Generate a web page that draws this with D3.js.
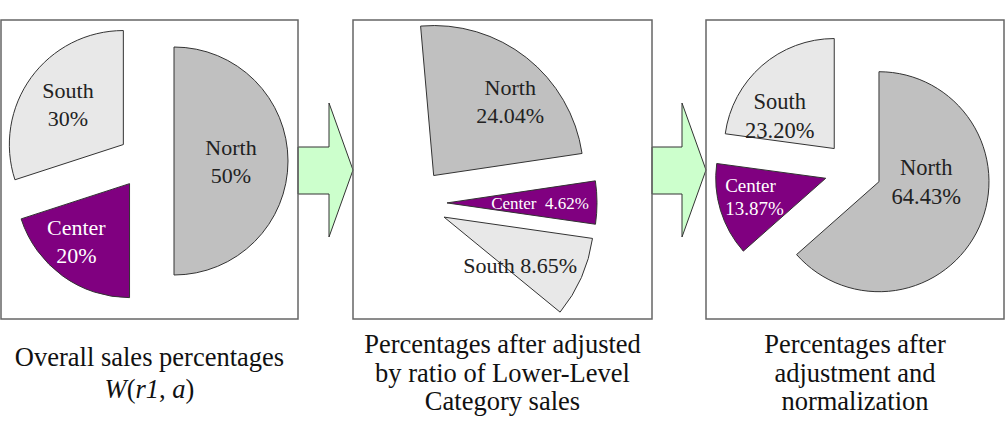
<!DOCTYPE html>
<html>
<head>
<meta charset="utf-8">
<script src="https://cdn.jsdelivr.net/npm/d3@7"></script>
<style>
  body { margin: 0; background: #fff; }
  svg { display: block; }
  text { font-family: "Liberation Serif", "Times New Roman", serif; white-space: pre; }
</style>
</head>
<body>
<div id="chart"></div>
<script>
// Data
const regions = ["North", "Center", "South"];
const overallShares = [50, 20, 30];
const adjustedShares = [24.04, 4.62, 8.65];
const normalizedShares = [64.43, 13.87, 23.20];

const captionLines = [
  ["Overall sales percentages", "W(r1, a)"],
  ["Percentages after adjusted", "by ratio of Lower-Level", "Category sales"],
  ["Percentages after", "adjustment and", "normalization"]
];

const colors = { North: "#c0c0c0", Center: "#800080", South: "#e8e8e8" };
const labelColors = { North: "#222", Center: "#fff", South: "#222" };

const width = 1006, height = 422;
const boxTop = 20, boxBottom = 319;

// layout for each panel (positions only)
const panels = [
  { values: overallShares, x0: 1, x1: 298, cx: 146, cy: 161, r: 114, explode: 28,
    start: 0, partial: false, decimals: 0, font: 22, lh: 28,
    labels: [{ k: .5, da: 0 }, { k: .69, da: 6.6 }, { k: .6, da: 0 }],
    captionY: 366, captionLH: 32 },
  { values: adjustedShares, x0: 353, x1: 652, cx: 412, cy: 203, r: 150, explode: 35,
    start: -5, partial: true, decimals: 2, font: 22, lh: 28,
    labels: [{ k: .71, da: 7.7 }, { k: .62, da: 0, oneLine: true, font: 17, sep: "  " },
             { k: .6, da: 8.5, oneLine: true, sep: " " }],
    captionY: 353, captionLH: 28.5 },
  { values: normalizedShares, x0: 706, x1: 1004, cx: 853, cy: 170, r: 110, explode: 28.5,
    start: 0, partial: false, decimals: 2, font: 22.5, lh: 28.5,
    labels: [{ k: .43, da: -24.3 }, { k: .93, da: 6.4, font: 19, lh: 23, anchor: "start" },
             { k: .58, da: -17.6 }],
    captionY: 353, captionLH: 28.5 }
];

const svg = d3.select("#chart")
  .append("svg")
  .attr("width", width)
  .attr("height", height);

// arrows between panels
const arrowLine = d3.line();
panels.slice(0, -1).forEach((p, i) => {
  const tipX = panels[i + 1].x0;
  const baseX = tipX - 24;
  const pts = [
    [p.x1, 147], [baseX, 147], [baseX, 103], [tipX, 170],
    [baseX, 237], [baseX, 194], [p.x1, 194]
  ];
  svg.append("path")
    .attr("d", arrowLine(pts) + "Z")
    .attr("fill", "#ccffcc")
    .attr("stroke", "#333")
    .attr("stroke-width", 1);
});

panels.forEach((p, pi) => {
  // panel frame
  svg.append("rect")
    .attr("x", p.x0)
    .attr("y", boxTop)
    .attr("width", p.x1 - p.x0)
    .attr("height", boxBottom - boxTop)
    .attr("fill", "none")
    .attr("stroke", "#666")
    .attr("stroke-width", 1.5);

  const data = regions.map((name, i) => ({ name, v: p.values[i] }));
  const start = p.start * Math.PI / 180;
  const total = d3.sum(data, d => d.v);
  // the middle panel only covers part of the whole
  const end = p.partial ? start + 2 * Math.PI * total / 100 : start + 2 * Math.PI;

  const pie = d3.pie()
    .sort(null)
    .value(d => d.v)
    .startAngle(start)
    .endAngle(end);

  const arc = d3.arc()
    .innerRadius(0)
    .outerRadius(p.r);

  const arcs = pie(data);
  const g = svg.append("g");

  const sliceOrigin = d => {
    const mid = (d.startAngle + d.endAngle) / 2;
    return [p.cx + p.explode * Math.sin(mid), p.cy - p.explode * Math.cos(mid), mid];
  };

  arcs.forEach(d => {
    const [sx, sy] = sliceOrigin(d);
    g.append("path")
      .attr("transform", `translate(${sx},${sy})`)
      .attr("d", arc(d))
      .attr("fill", colors[d.data.name])
      .attr("stroke", "#333")
      .attr("stroke-width", 1);
  });

  // labels on top of the slices
  arcs.forEach((d, i) => {
    const [sx, sy, mid] = sliceOrigin(d);
    const lab = p.labels[i];
    const a = mid + lab.da * Math.PI / 180;
    const lx = sx + lab.k * p.r * Math.sin(a);
    const ly = sy - lab.k * p.r * Math.cos(a);

    const pct = d3.format(`.${p.decimals}f`)(d.data.v) + "%";
    const lines = lab.oneLine ? [d.data.name + lab.sep + pct] : [d.data.name, pct];
    const lh = lab.lh || p.lh;

    const t = g.append("text")
      .attr("text-anchor", lab.anchor || "middle")
      .style("font-size", (lab.font || p.font) + "px")
      .attr("fill", labelColors[d.data.name]);

    lines.forEach((ln, j) => {
      t.append("tspan")
        .attr("x", lx)
        .attr("y", ly + (j - (lines.length - 1) / 2) * lh)
        .attr("dy", "0.35em")
        .text(ln);
    });
  });

  // caption under the panel
  const capX = (p.x0 + p.x1) / 2;
  const cap = svg.append("text")
    .attr("text-anchor", "middle")
    .style("font-size", "26.5px")
    .attr("fill", "#111");

  captionLines[pi].forEach((ln, j) => {
    const y = p.captionY + j * p.captionLH;
    if (ln.startsWith("W(")) {
      // formula line: letters italic, punctuation upright
      const parts = ln.split(/([(), ]+)/).filter(s => s.length);
      parts.forEach((s, k) => {
        const ts = cap.append("tspan").text(s);
        if (k === 0) ts.attr("x", capX).attr("y", y);
        if (!/^[(), ]+$/.test(s)) ts.style("font-style", "italic");
      });
    } else {
      cap.append("tspan")
        .attr("x", capX)
        .attr("y", y)
        .text(ln);
    }
  });
});
</script>
</body>
</html>
